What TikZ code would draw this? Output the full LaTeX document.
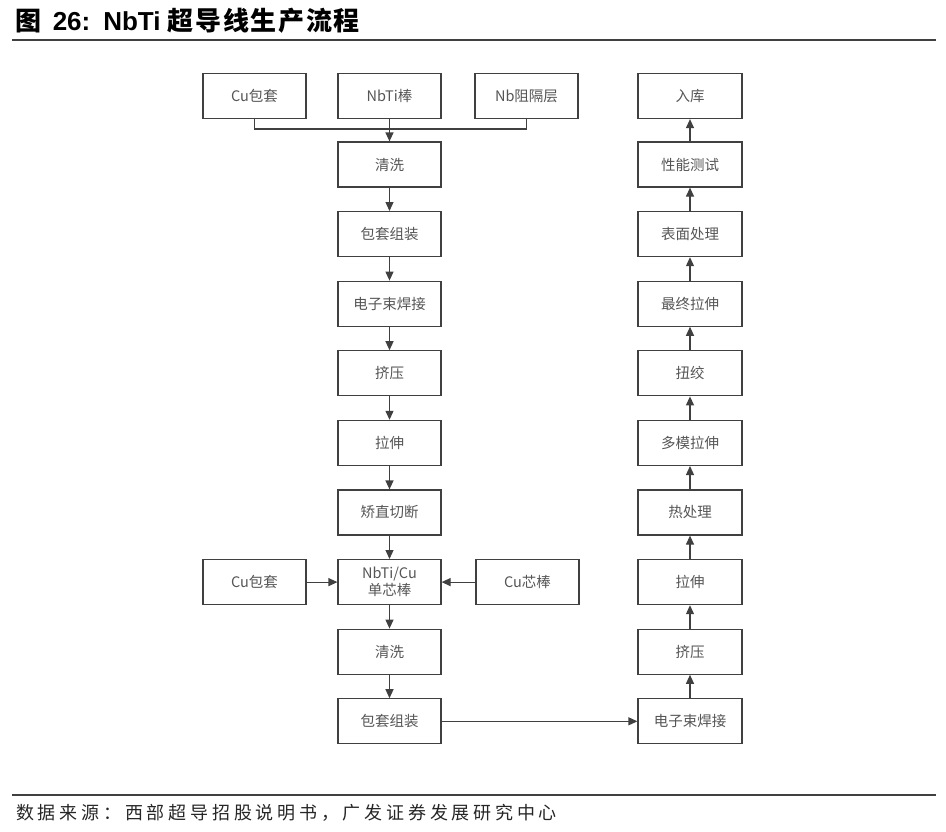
\documentclass[tikz,border=0pt]{standalone}
\usepackage{fontspec}
\setmainfont{Liberation Sans}
\newfontfamily\cjk{Noto Sans CJK SC}
\newfontfamily\cjkwide[LetterSpace=21]{Noto Sans CJK SC}
\newfontfamily\cjktitle[LetterSpace=6.5]{Noto Sans CJK SC}
\usetikzlibrary{arrows.meta}
\definecolor{lc}{HTML}{404040}
\definecolor{tc}{HTML}{555555}
\begin{document}
\begin{tikzpicture}[x=1pt,y=-1pt,
  box/.style={draw=lc,line width=1.2pt,minimum width=103pt,minimum height=45pt,inner sep=0pt,align=center,font=\cjk\fontsize{14.5}{17}\selectfont,text=tc},
  arr/.style={draw=lc,line width=1.2pt,-{Triangle[length=9pt,width=8pt]}},
  ln/.style={draw=lc,line width=1.2pt}]
\useasboundingbox (0,0) rectangle (946,831);
% title
\node[anchor=west,inner sep=0pt,font=\bfseries\fontsize{26}{28}\selectfont] (title) at (15,21) {{\cjk 图}\, 26:\enspace NbTi {\cjktitle 超导线生产流程}};
\draw[line width=2pt,color=lc] (12,40) -- (936,40);
\draw[line width=2pt,color=lc] (12,795) -- (936,795);
\node[anchor=west,inner sep=0pt,font=\cjkwide\fontsize{18}{20}\selectfont,text=black!85] (src) at (16,813) {数据来源：西部超导招股说明书，广发证券发展研究中心};
% top row
\node[box] (cu1) at (254.5,96) {Cu包套};
\node[box] (nbti) at (389.5,96) {NbTi棒};
\node[box] (nb) at (526.5,96) {Nb阻隔层};
% centre column
\node[box] (c1) at (389.5,164.5) {清洗};
\node[box] (c2) at (389.5,234.1) {包套组装};
\node[box] (c3) at (389.5,303.7) {电子束焊接};
\node[box] (c4) at (389.5,373.3) {挤压};
\node[box] (c5) at (389.5,442.9) {拉伸};
\node[box] (c6) at (389.5,512.5) {矫直切断};
\node[box] (c7) at (389.5,582.1) {NbTi/Cu\\单芯棒};
\node[box] (c8) at (389.5,651.7) {清洗};
\node[box] (c9) at (389.5,721.3) {包套组装};
\node[box] (cu2) at (254.5,582.1) {Cu包套};
\node[box] (cuc) at (527.5,582.1) {Cu芯棒};
% right column
\node[box,minimum width=104pt] (r0) at (690,96) {入库};
\node[box,minimum width=104pt] (r1) at (690,164.5) {性能测试};
\node[box,minimum width=104pt] (r2) at (690,234.1) {表面处理};
\node[box,minimum width=104pt] (r3) at (690,303.7) {最终拉伸};
\node[box,minimum width=104pt] (r4) at (690,373.3) {扭绞};
\node[box,minimum width=104pt] (r5) at (690,442.9) {多模拉伸};
\node[box,minimum width=104pt] (r6) at (690,512.5) {热处理};
\node[box,minimum width=104pt] (r7) at (690,582.1) {拉伸};
\node[box,minimum width=104pt] (r8) at (690,651.7) {挤压};
\node[box,minimum width=104pt] (r9) at (690,721.3) {电子束焊接};
% connectors
\coordinate (j) at (389.5,129);
\draw[ln] (cu1.south) |- (j);
\draw[ln] (nb.south) |- (j);
\draw[arr] (nbti.south) -- (c1.north);
\draw[arr] (c1) -- (c2);
\draw[arr] (c2) -- (c3);
\draw[arr] (c3) -- (c4);
\draw[arr] (c4) -- (c5);
\draw[arr] (c5) -- (c6);
\draw[arr] (c6) -- (c7);
\draw[arr] (c7) -- (c8);
\draw[arr] (c8) -- (c9);
\draw[arr] (cu2) -- (c7);
\draw[arr] (cuc) -- (c7);
\draw[arr] (c9) -- (r9);
\draw[arr] (r9) -- (r8);
\draw[arr] (r8) -- (r7);
\draw[arr] (r7) -- (r6);
\draw[arr] (r6) -- (r5);
\draw[arr] (r5) -- (r4);
\draw[arr] (r4) -- (r3);
\draw[arr] (r3) -- (r2);
\draw[arr] (r2) -- (r1);
\draw[arr] (r1) -- (r0);
\end{tikzpicture}
\end{document}
